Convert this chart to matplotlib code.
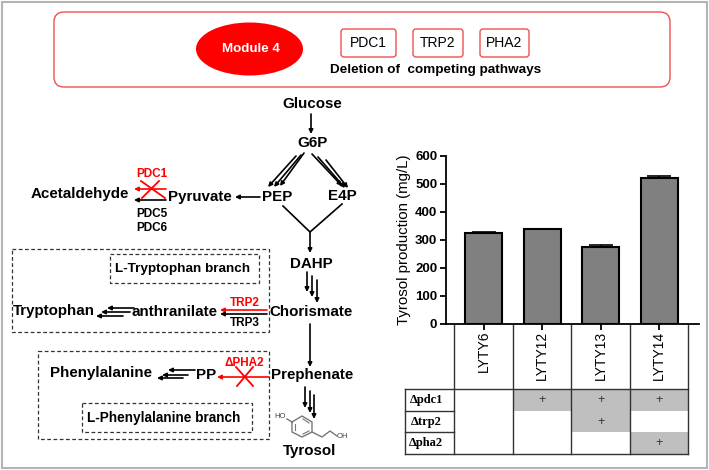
import matplotlib
matplotlib.use("Agg")
import matplotlib.pyplot as plt
from matplotlib.patches import Ellipse, FancyBboxPatch, Rectangle

plt.rcParams["font.family"] = ["Liberation Sans", "DejaVu Sans"]

W, H = 709, 470
RED = "#ff0000"
GREY_CELL = "#bfbfbf"

# chart data
strains = ["LYTY6", "LYTY12", "LYTY13", "LYTY14"]
production = [323, 337, 273, 521]
production_err = [5, 1, 9, 5]
y_ticks = [0, 100, 200, 300, 400, 500, 600]

# deletion table below the bars
deletion_names = ["\u0394pdc1", "\u0394trp2", "\u0394pha2"]
pdc1_deleted = [0, 1, 1, 1]
trp2_deleted = [0, 0, 1, 0]
pha2_deleted = [0, 0, 0, 1]

# pathway labels: text, x, y (pixels)
metabolites = [
    ("Glucose", 312, 104), ("G6P", 313, 143), ("PEP", 277, 197), ("E4P", 342, 196),
    ("Pyruvate", 200, 197), ("Acetaldehyde", 80, 194), ("DAHP", 311, 264),
    ("Chorismate", 311, 312), ("anthranilate", 175, 312), ("Tryptophan", 54, 311),
    ("Prephenate", 312, 375), ("PP", 206, 375), ("Phenylalanine", 101, 373),
    ("Tyrosol", 310, 451),
]
enzymes = [
    ("PDC1", 152, 174, RED), ("PDC5", 152, 214, "black"), ("PDC6", 152, 228, "black"),
    ("TRP2", 245, 303, RED), ("TRP3", 245, 323, "black"), ("\u0394PHA2", 244, 363, RED),
]
black_arrows = [
    (311, 114, 311, 134), (260, 197, 235, 197), (166, 200, 134, 200),
    (310, 232, 310, 253), (267, 314, 220, 314), (310, 324, 310, 367),
    (304, 153, 280, 186), (301, 155, 274, 187), (296, 156, 268, 187),
    (312, 154, 342, 186), (318, 157, 345, 188), (326, 160, 348, 188),
    (307, 272, 307, 292), (312, 276, 312, 297), (317, 280, 317, 303),
    (134, 308, 107, 308), (130, 312, 101, 312), (123, 316, 96, 316),
    (195, 370, 168, 370), (188, 375, 162, 375), (183, 378, 157, 378),
    (305, 387, 305, 408), (310, 391, 310, 413), (314, 395, 314, 419),
]
red_arrows = [(166, 189, 134, 189), (267, 310, 220, 310), (269, 377, 217, 377)]
red_crosses = [
    (141, 181, 165, 198), (159, 181, 142, 198),
    (236, 367, 253, 386), (253, 367, 237, 386),
]
dashed_boxes = [(12, 249, 269, 332), (110, 254, 259, 283), (38, 351, 269, 439), (82, 403, 252, 432)]
module_genes = [("PDC1", 341, 396), ("TRP2", 413, 463), ("PHA2", 480, 529)]


def axes_at(fig, left, top, right, bottom, **kw):
    return fig.add_axes([left / W, 1 - bottom / H, (right - left) / W, (bottom - top) / H], **kw)


def arrow(ax, x0, y0, x1, y1, color="black"):
    ax.annotate(
        "", xy=(x1, y1), xytext=(x0, y0),
        arrowprops=dict(arrowstyle="-|>", color=color, lw=1.2, mutation_scale=6, shrinkA=0, shrinkB=0),
    )


def draw_overlay(ax):
    ax.set_xlim(0, W)
    ax.set_ylim(H, 0)
    ax.axis("off")

    ax.add_patch(Rectangle((1.5, 1.5), 705, 466, fc="white", ec="#b4b4b4", lw=1.5))

    # top banner
    ax.add_patch(FancyBboxPatch((54, 12), 616, 75, boxstyle="round,pad=0,rounding_size=10",
                                fc="white", ec="#f05050", lw=1))
    ax.add_patch(Ellipse((249.5, 49), 107, 53, fc=RED, ec="none"))
    ax.text(250.5, 49, "Module 4", color="white", fontsize=9.6, fontweight="bold", ha="center", va="center")
    for name, left, right in module_genes:
        ax.add_patch(FancyBboxPatch((left, 29), right - left, 28, boxstyle="round,pad=0,rounding_size=3",
                                    fc="white", ec="#f05050", lw=1))
        ax.text((left + right) / 2, 43, name, fontsize=10, ha="center", va="center")
    ax.text(435.5, 70, "Deletion of  competing pathways", fontsize=9.7, fontweight="bold", ha="center", va="center")

    # pathway
    for text, x, y in metabolites:
        ax.text(x, y, text, fontsize=10.9, fontweight="bold", ha="center", va="center")
    for text, x, y, color in enzymes:
        ax.text(x, y, text, fontsize=8.5, fontweight="bold", color=color, ha="center", va="center")
    for a in black_arrows:
        arrow(ax, *a)
    for a in red_arrows:
        arrow(ax, *a, color=RED)
    for x0, y0, x1, y1 in red_crosses:
        ax.plot([x0, x1], [y0, y1], color=RED, lw=1.3)
    ax.plot([283, 310, 342], [206, 232, 204], color="black", lw=1.2)

    for left, top, right, bottom in dashed_boxes:
        ax.add_patch(Rectangle((left, top), right - left, bottom - top, fc="none", ec="#333333", lw=0.9, ls=(0, (3, 2))))
    ax.text(183, 269, "L-Tryptophan branch", fontsize=9.7, fontweight="bold", ha="center", va="center")
    ax.text(164, 418, "L-Phenylalanine branch", fontsize=9.8, fontweight="bold", ha="center", va="center")

    # tyrosol structure
    ring_x = [292, 302, 312, 312, 302, 292, 292]
    ring_y = [422, 416, 422, 432, 437, 432, 422]
    ax.plot(ring_x, ring_y, color="#777777", lw=1)
    ax.plot([295, 295], [424, 430], color="#777777", lw=0.8)
    ax.plot([303, 309], [419, 423], color="#777777", lw=0.8)
    ax.plot([303, 309], [434, 431], color="#777777", lw=0.8)
    ax.plot([287, 292], [419, 422], color="#777777", lw=1)
    ax.plot([312, 322, 330, 337], [432, 437, 431, 436], color="#777777", lw=1)
    ax.text(280, 416, "HO", fontsize=5.5, color="#444444", ha="center", va="center")
    ax.text(342, 437, "OH", fontsize=5.5, color="#444444", ha="center", va="center")


def draw_bars(ax):
    xs = range(len(strains))
    ax.bar(xs, production, width=0.64, color="#808080", edgecolor="black", linewidth=1.5)
    ax.errorbar(xs, production, yerr=[[0] * 4, production_err], fmt="none",
                ecolor="black", elinewidth=1.2, capsize=8.5, capthick=1.2)
    ax.set_xlim(-0.65, 3.68)
    ax.set_ylim(0, 600)
    ax.set_yticks(y_ticks)
    ax.set_xticks(list(xs))
    ax.set_xticklabels(strains, rotation=90, fontsize=10, va="top")
    ax.tick_params(axis="y", width=1.3, length=4, pad=2, labelsize=9.5)
    ax.tick_params(axis="x", width=1.3, length=4, pad=1)
    for label in ax.get_yticklabels():
        label.set_fontweight("bold")
    ax.set_ylabel("Tyrosol production (mg/L)", fontsize=10.8, labelpad=3)
    ax.spines["top"].set_visible(False)
    ax.spines["right"].set_visible(False)
    ax.spines["left"].set_linewidth(1.3)
    ax.spines["bottom"].set_linewidth(1.3)
    ax.patch.set_alpha(0)


def draw_table(ax):
    rows = [pdc1_deleted, trp2_deleted, pha2_deleted]
    ax.set_xlim(-0.65, 3.68)
    ax.set_ylim(3, 0)
    ax.axis("off")
    ax.patch.set_alpha(0)
    for r, row in enumerate(rows):
        for c, deleted in enumerate(row):
            if deleted:
                ax.add_patch(Rectangle((c - 0.5, r), 1, 1, fc=GREY_CELL, ec="none"))
                ax.text(c, r + 0.5, "+", fontsize=9, color="#333333", ha="center", va="center")
        ax.text(-0.98, r + 0.5, deletion_names[r], fontsize=9, fontweight="bold",
                family="Liberation Serif", ha="center", va="center")
    # outer lines reach up to the bar axis (y = -3 is the baseline)
    for c in range(len(strains) + 1):
        ax.plot([c - 0.5, c - 0.5], [-3, 3], color="#333333", lw=1, clip_on=False)
    ax.plot([-1.35, 3.5], [0, 0], color="#333333", lw=1, clip_on=False)
    ax.plot([-1.35, 3.5], [3, 3], color="#333333", lw=1, clip_on=False)
    ax.plot([-1.35, -0.5], [1, 1], color="#333333", lw=1, clip_on=False)
    ax.plot([-1.35, -0.5], [2, 2], color="#333333", lw=1, clip_on=False)
    ax.plot([-1.35, -1.35], [0, 3], color="#333333", lw=1, clip_on=False)


if __name__ == "__main__":
    fig = plt.figure(figsize=(W / 100, H / 100), dpi=100)
    draw_overlay(axes_at(fig, 0, 0, W, H))
    draw_table(axes_at(fig, 445.7, 389, 699, 454))
    draw_bars(axes_at(fig, 445.7, 155.7, 699, 324))
    fig.savefig("out.png", dpi=100)
